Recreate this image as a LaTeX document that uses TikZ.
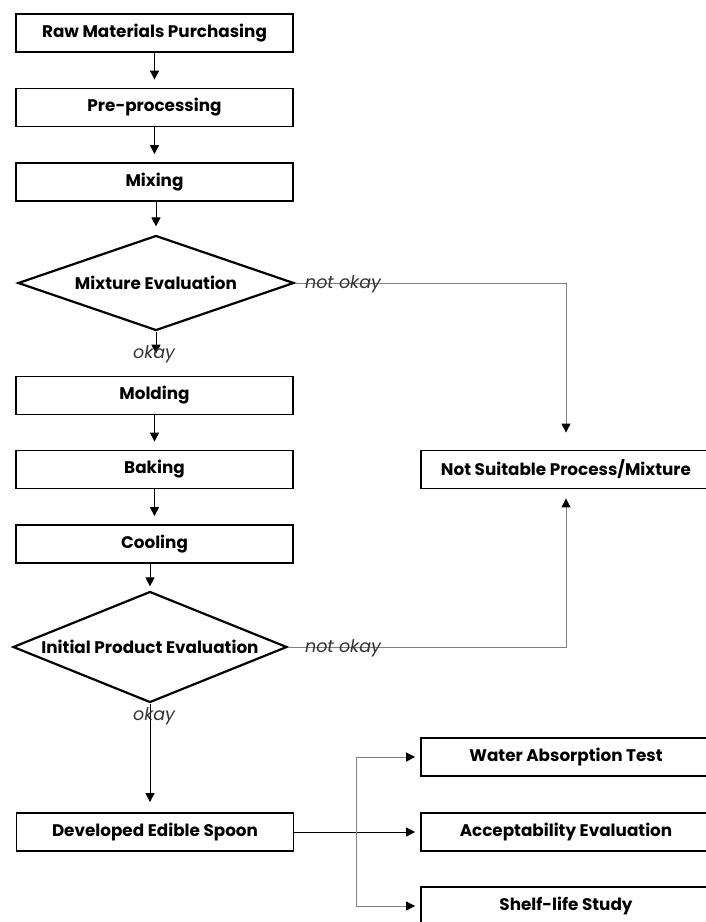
\documentclass[tikz,border=0pt]{standalone}
\usepackage{fontspec}
\setmainfont{Poppins}
\usetikzlibrary{arrows.meta, shapes.geometric, calc}

\begin{document}
\begin{tikzpicture}[x=1pt, y=-1pt,
    box/.style={draw, line width=1.8pt, minimum width=277pt, minimum height=38pt, inner sep=0pt,
        font=\fontsize{16.8}{19}\selectfont\bfseries},
    decision/.style={draw, diamond, line width=2.2pt, inner sep=0pt,
        font=\fontsize{16.8}{19}\selectfont\bfseries},
    flow/.style={-{Triangle[length=9pt,width=9pt]}, line width=0.9pt, shorten >=8pt},
    side/.style={flow, draw=gray, -{Triangle[length=9pt,width=9pt,color=black]}},
    tag/.style={font=\fontsize{17.5}{19}\selectfont\itshape, text=black!80, inner sep=0pt}]

    % page frame
    \clip (0,0) rectangle (706,922);

    % main column
    \node[box] (raw) at (154.5,33) {Raw Materials Purchasing};
    \node[box] (pre) at (154.5,107.5) {Pre-processing};
    \node[box] (mix) at (154.5,182) {Mixing};
    \node[decision, minimum width=276pt, minimum height=95pt] (mixeval) at (156,283)
        {\makebox[0pt]{Mixture Evaluation}};
    \node[box] (mold) at (154.5,395.5) {Molding};
    \node[box] (bake) at (154.5,469.5) {Baking};
    \node[box] (cool) at (154.5,544) {Cooling};
    \node[decision, minimum width=274pt, minimum height=111pt] (prodeval) at (150,647)
        {\makebox[0pt]{Initial Product Evaluation}};
    \node[box] (spoon) at (155,832) {Developed Edible Spoon};

    % right column
    \node[box, minimum width=290pt] (unfit) at (566,469.5) {Not Suitable Process/Mixture};
    \node[box, minimum width=290pt] (water) at (566,757) {Water Absorption Test};
    \node[box, minimum width=290pt] (accept) at (566,832) {Acceptability Evaluation};
    \node[box, minimum width=290pt] (shelf) at (566,906) {Shelf-life Study};

    % arrows down the column
    \draw[flow] (raw) -- (pre);
    \draw[flow] (pre) -- (mix);
    \draw[flow] (mix.south -| mixeval.north) -- (mixeval.north);
    \draw[flow, shorten >=22pt] (mixeval.south) -- (mixeval.south |- mold.north);
    \draw[flow] (mold) -- (bake);
    \draw[flow] (bake) -- (cool);
    \draw[flow, shorten >=4pt] (cool.south -| prodeval.north) -- (prodeval.north);
    \draw[flow, shorten >=10pt] (prodeval.south) -- (prodeval.south |- spoon.north);

    % rejected branches
    \draw[side, shorten >=17pt] (mixeval.east) -| (unfit.north);
    \draw[side, shorten >=9pt] (prodeval.east) -| (unfit.south);
    \node[tag] (bad1) at (343,284) {not okay};
    \node[tag] (bad2) at (343,648) {not okay};
    \node[tag] (good1) at (154,354) {okay};
    \node[tag] (good2) at (154,716) {okay};

    % tests on the spoon
    \coordinate (fork) at (356,832);
    \draw[flow, shorten >=5pt] (spoon) -- (accept);
    \draw[side, shorten >=5pt] (fork) |- (water.west);
    \draw[side, shorten >=5pt] (fork) |- (shelf.west);
\end{tikzpicture}
\end{document}
